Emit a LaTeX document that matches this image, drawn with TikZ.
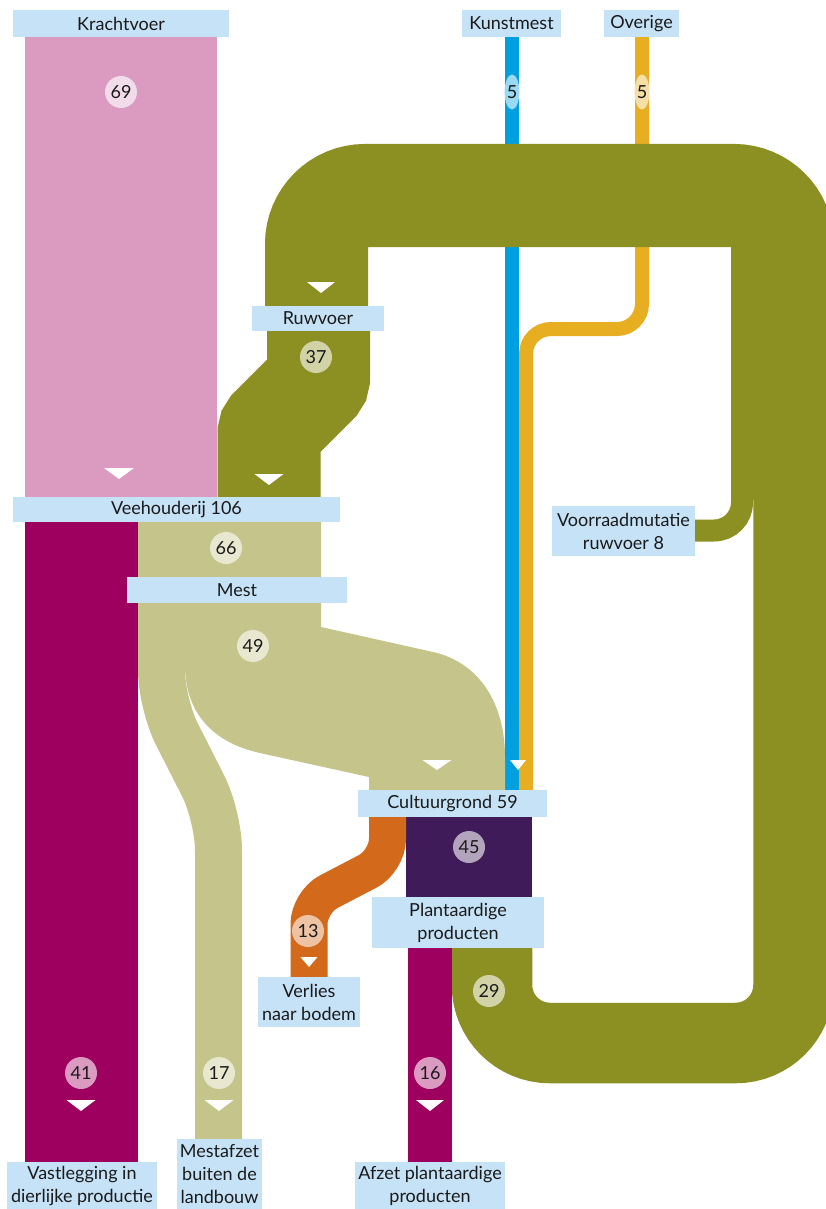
\documentclass[tikz,border=0pt]{standalone}
\usepackage{fontspec}
\setmainfont{Lato}
\usetikzlibrary{positioning, shapes.geometric}

\definecolor{krachtroze}{HTML}{DB9BC1}
\definecolor{dierpaars}{HTML}{9E0060}
\definecolor{ruwolijf}{HTML}{8C9022}
\definecolor{mestzand}{HTML}{C5C48A}
\definecolor{kunstblauw}{HTML}{009FE0}
\definecolor{overiggeel}{HTML}{E7AE22}
\definecolor{verliesoranje}{HTML}{D3691A}
\definecolor{plantpaars}{HTML}{3F1B5A}
\definecolor{boxblauw}{HTML}{C6E2F7}
\definecolor{tekst}{HTML}{1A1A1A}

\begin{document}
\begin{tikzpicture}[
        x=1pt, y=-1pt,
        % --- stijlen ---
        namebox/.style={rectangle, fill=boxblauw, inner sep=0pt, align=center,
                        text=tekst, font=\fontsize{18}{23}\selectfont},
        badge/.style={circle, inner sep=0pt, minimum size=32pt, text=tekst,
                      font=\fontsize{18}{20}\selectfont},
        pill/.style={ellipse, inner sep=0pt, minimum width=14pt, minimum height=35pt,
                     text=tekst, font=\fontsize{18}{20}\selectfont},
        band/.style={line cap=butt, line join=miter}
    ]

    \fill[white] (0,0) rectangle (825,1209);
    \useasboundingbox (0,0) rectangle (825,1209);

    % --- dunne stromen (onder de lus) ---
    \draw[band, kunstblauw, line width=14pt] (512,30) -- (512,795);
    \draw[band, overiggeel, line width=14pt, rounded corners=25pt]
        (642,30) -- (642,329) -- (526,329) -- (526,795);

    % --- ruwvoer-lus ---
    \draw[band, ruwolijf, line width=80.5pt, rounded corners=58pt]
        (492,940) -- (492,1043) -- (793.5,1043) -- (793.5,490);
    \draw[band, ruwolijf, line width=22pt, rounded corners=28pt]
        (690,530.5) -- (742,530.5) -- (742,480);
    \draw[band, ruwolijf, line width=103pt, rounded corners=48.5pt]
        (782.5,500) -- (782.5,195.5) -- (316.5,195.5) -- (316.5,320);
    \draw[band, ruwolijf, line width=103pt, rounded corners=3.5pt]
        (318.5,318) -- (318.5,381) -- (269,430.5) -- (269,500);

    % --- veehouderij ---
    \fill[krachtroze] (25,30) rectangle (217,500);
    \fill[dierpaars] (25,515) rectangle (138,1165);
    \fill[mestzand] (138,515) -- (321,515) -- (321,627) -- (433,652)
        .. controls (478,662) and (505,702) .. (505,757) -- (505,795)
        -- (369,795) -- (369,777) -- (260,753)
        .. controls (210,742) and (185,710) .. (185,665) -- (185,600) -- (138,600) -- cycle;
    \draw[band, mestzand, line width=47pt, rounded corners=34pt]
        (161.5,598) -- (161.5,704) -- (218.5,816) -- (218.5,1145);

    % --- cultuurgrond ---
    \fill[plantpaars] (406,810) rectangle (531.5,900);
    \fill[dierpaars] (408,940) rectangle (452,1165);
    \draw[band, verliesoranje, line width=37pt, rounded corners=22pt]
        (387.5,810) -- (387.5,861) -- (309,902) -- (309,985);

    % --- pijlpunten ---
    \foreach \ax/\ay/\aw/\ah in {119/468/30/11, 321/282/28/11, 269/474/29/11,
                                 437/760/29/10, 518/760/16/10, 309/957/17/10,
                                 81/1100/29/11, 219/1100/29/11, 430/1100/28/11}
        \fill[white] (\ax-\aw/2,\ay) -- (\ax+\aw/2,\ay) -- (\ax,\ay+\ah) -- cycle;

    % --- namen ---
    \node[namebox, minimum width=216pt, minimum height=27pt] (krachtvoer) at (121,23.5) {Krachtvoer};
    \node[namebox, minimum width=99pt, minimum height=27pt] (kunstmest) at (511.5,23.5) {Kunstmest};
    \node[namebox, minimum width=75pt, minimum height=27pt] (overige) at (641.5,23.5) {Overige};
    \node[namebox, minimum width=132pt, minimum height=25pt] (ruwvoer) at (318,318.5) {Ruwvoer};
    \node[namebox, minimum width=327pt, minimum height=25pt] (veehouderij) at (176.5,509.5) {Veehouderij 106};
    \node[namebox, minimum width=220pt, minimum height=26pt] (mest) at (237,590) {Mest};
    \node[namebox, minimum width=143pt, minimum height=50pt] (voorraad) at (623.5,531) {Voorraadmutatie\\ruwvoer 8};
    \node[namebox, minimum width=189pt, minimum height=27pt] (cultuurgrond) at (452.5,803.5) {Cultuurgrond 59};
    \node[namebox, minimum width=172pt, minimum height=51pt] (plantaardig) at (458,922.5) {Plantaardige\\producten};
    \node[namebox, minimum width=102pt, minimum height=50pt] (verlies) at (309,1002) {Verlies\\naar bodem};
    \node[namebox, minimum width=150pt, minimum height=47pt] (vastlegging) at (82,1185.5) {Vastlegging in\\dierlijke productie};
    \node[namebox, minimum width=85pt, minimum height=70pt] (mestafzet) at (219.5,1174) {Mestafzet\\buiten de\\landbouw};
    \node[namebox, minimum width=150pt, minimum height=47pt] (afzet) at (430,1185.5) {Afzet plantaardige\\producten};

    % --- waarden ---
    \node[badge, fill=krachtroze!35] (w69) at (121,92) {69};
    \node[pill, fill=kunstblauw!40] (w5k) at (512,92) {5};
    \node[pill, fill=overiggeel!40] (w5o) at (642,92) {5};
    \node[badge, fill=ruwolijf!40] (w37) at (316,357) {37};
    \node[badge, fill=mestzand!40] (w66) at (226,548) {66};
    \node[badge, fill=mestzand!40] (w49) at (253,646) {49};
    \node[badge, fill=plantpaars!40] (w45) at (469,847) {45};
    \node[badge, fill=verliesoranje!40] (w13) at (308,931) {13};
    \node[badge, fill=ruwolijf!40] (w29) at (489,991) {29};
    \node[badge, fill=krachtroze] (w41) at (81,1073) {41};
    \node[badge, fill=mestzand!40] (w17) at (219,1073) {17};
    \node[badge, fill=krachtroze] (w16) at (430,1073) {16};

\end{tikzpicture}
\end{document}
